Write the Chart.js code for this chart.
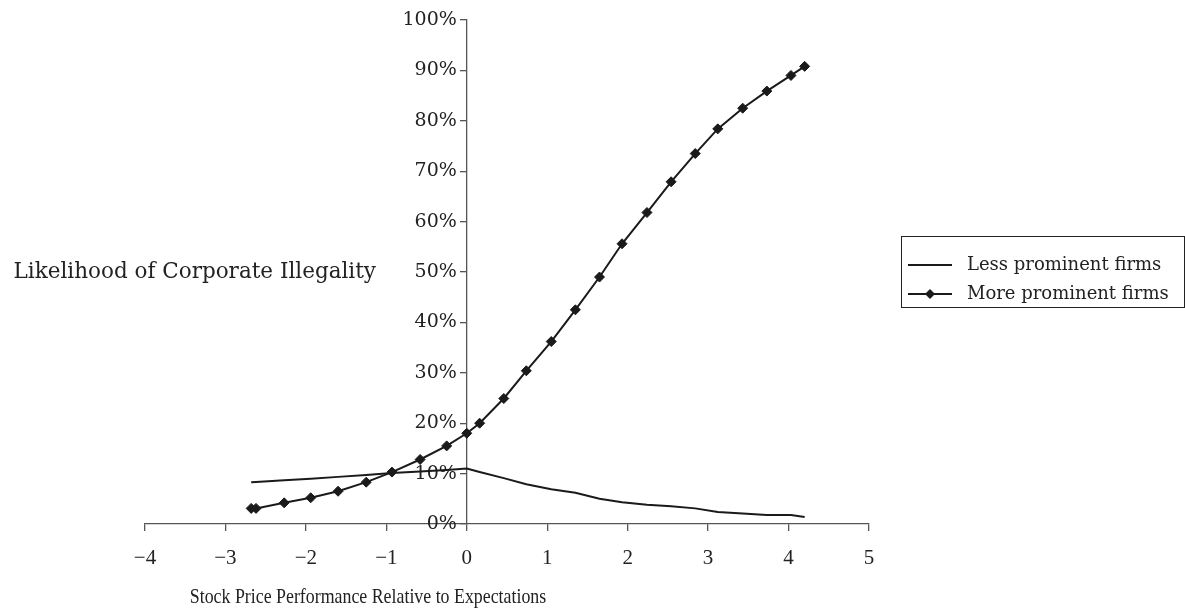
<!DOCTYPE html>
<html>
<head>
<meta charset="utf-8">
<script src="https://cdn.jsdelivr.net/npm/chart.js@4/dist/chart.umd.min.js"></script>
<style>
    html, body { margin: 0; padding: 0; background: #fff; }
    canvas { display: block; }
</style>
</head>
<body>
<canvas id="illegalityChart" width="1185" height="608"></canvas>
<script>
// Performance relative to expectations (x)
const stockPerf = [-2.68, -2.62, -2.27, -1.94, -1.60, -1.25, -0.93, -0.58, -0.25, 0, 0.16, 0.46, 0.74,
    1.05, 1.35, 1.65, 1.93, 2.24, 2.54, 2.84, 3.12, 3.43, 3.73, 4.03, 4.20];

// Likelihood (%) for each group
const lessProminent = [8.3, 8.35, 8.7, 9.0, 9.35, 9.7, 10.1, 10.4, 10.7, 11.0, 10.3, 9.1, 7.9,
    6.9, 6.2, 5.0, 4.3, 3.8, 3.5, 3.1, 2.4, 2.1, 1.8, 1.8, 1.4];
const moreProminent = [3.1, 3.1, 4.2, 5.2, 6.5, 8.3, 10.3, 12.8, 15.5, 18.0, 20.0, 24.9, 30.4,
    36.2, 42.5, 49.0, 55.6, 61.8, 67.9, 73.5, 78.4, 82.5, 85.9, 89.0, 90.8];

const seriesNames = ['Less prominent firms', 'More prominent firms'];
const xTickValues = [-4, -3, -2, -1, 0, 1, 2, 3, 4, 5];
const yTickValues = [0, 10, 20, 30, 40, 50, 60, 70, 80, 90, 100];

const xTitle = 'Stock Price Performance Relative to Expectations';
const yTitle = 'Likelihood of Corporate Illegality';

const textColor = '#222';
const axisColor = '#555';

function toPoints(ys) {
    return stockPerf.map((x, i) => ({ x: x, y: ys[i] }));
}

// o eixo Y fica em x = 0; afasta os rótulos para a marca aparecer
const yLabelGap = {
    id: 'yLabelGap',
    beforeDraw(chart) {
        const items = chart.scales.y.getLabelItems();
        items.forEach(it => {
            if (!it._shifted) {
                it.options.translation[0] -= 10;
                it._shifted = true;
            }
        });
    }
};

// Textos extras: titulo do eixo Y à esquerda, titulo do eixo X e legenda com borda
const extraText = {
    id: 'extraText',
    afterDraw(chart) {
        const ctx = chart.ctx;
        const yScale = chart.scales.y;
        ctx.save();
        ctx.fillStyle = textColor;

        ctx.font = '21.5px "DejaVu Serif"';
        ctx.textAlign = 'right';
        ctx.textBaseline = 'middle';
        ctx.fillText(yTitle, 376, yScale.getPixelForValue(50));

        // titulo X (fonte estreita)
        ctx.save();
        ctx.translate(368, 597);
        ctx.scale(0.85, 1);
        ctx.font = '21px "Liberation Serif"';
        ctx.textAlign = 'center';
        ctx.fillText(xTitle, 0, 0);
        ctx.restore();

        // legenda
        ctx.strokeStyle = '#222';
        ctx.lineWidth = 1;
        ctx.strokeRect(901.5, 236.5, 283, 71);
        const rows = [265, 294];
        chart.data.datasets.forEach((ds, i) => {
            const y = rows[i];
            ctx.strokeStyle = ds.borderColor;
            ctx.lineWidth = 1.8;
            ctx.beginPath();
            ctx.moveTo(908, y);
            ctx.lineTo(952, y);
            ctx.stroke();
            if (ds.pointRadius > 0) {
                ctx.fillStyle = ds.pointBackgroundColor;
                ctx.beginPath();
                ctx.moveTo(930, y - 5);
                ctx.lineTo(935, y);
                ctx.lineTo(930, y + 5);
                ctx.lineTo(925, y);
                ctx.closePath();
                ctx.fill();
            }
            ctx.fillStyle = textColor;
            ctx.font = '18px "DejaVu Serif"';
            ctx.textAlign = 'left';
            ctx.textBaseline = 'middle';
            ctx.fillText(ds.label, 967, y);
        });
        ctx.restore();
    }
};

const ctx = document.getElementById('illegalityChart').getContext('2d');
const chart = new Chart(ctx, {
    type: 'line',
    data: {
        datasets: [{
            label: seriesNames[0],
            data: toPoints(lessProminent),
            borderColor: '#1a1a1a',
            borderWidth: 2,
            pointRadius: 0,
            tension: 0
        }, {
            label: seriesNames[1],
            data: toPoints(moreProminent),
            borderColor: '#1a1a1a',
            borderWidth: 2,
            pointStyle: 'rectRot',
            pointRadius: 5,
            pointBackgroundColor: '#1a1a1a',
            pointBorderColor: '#1a1a1a',
            pointBorderWidth: 1,
            tension: 0
        }]
    },
    options: {
        responsive: false,
        animation: false,
        layout: {
            padding: { left: 145, right: 316, top: 20, bottom: 0 }
        },
        plugins: {
            legend: { display: false },
            tooltip: { enabled: false }
        },
        scales: {
            x: {
                type: 'linear',
                min: -4,
                max: 5,
                afterBuildTicks: (s) => { s.ticks = xTickValues.map(v => ({ value: v })); },
                afterFit: (s) => { s.height = 84; },
                border: { display: true, color: axisColor, width: 1.3 },
                grid: {
                    display: true,
                    drawOnChartArea: false,
                    drawTicks: true,
                    tickLength: 7,
                    color: axisColor,
                    lineWidth: 1.3
                },
                ticks: {
                    color: textColor,
                    padding: 15,
                    font: { family: '"Liberation Serif"', size: 21 },
                    callback: (v) => (v < 0 ? '\u2212' + Math.abs(v) : String(v))
                }
            },
            y: {
                type: 'linear',
                position: { x: 0 },
                min: 0,
                max: 100,
                afterBuildTicks: (s) => { s.ticks = yTickValues.map(v => ({ value: v })); },
                border: { display: true, color: axisColor, width: 1.3 },
                grid: {
                    display: true,
                    drawOnChartArea: false,
                    drawTicks: true,
                    tickLength: 6,
                    color: axisColor,
                    lineWidth: 1.3
                },
                ticks: {
                    color: textColor,
                    padding: 4,
                    font: { family: '"DejaVu Serif"', size: 19 },
                    callback: (v) => v + '%'
                }
            }
        }
    },
    plugins: [yLabelGap, extraText]
});
</script>
</body>
</html>
